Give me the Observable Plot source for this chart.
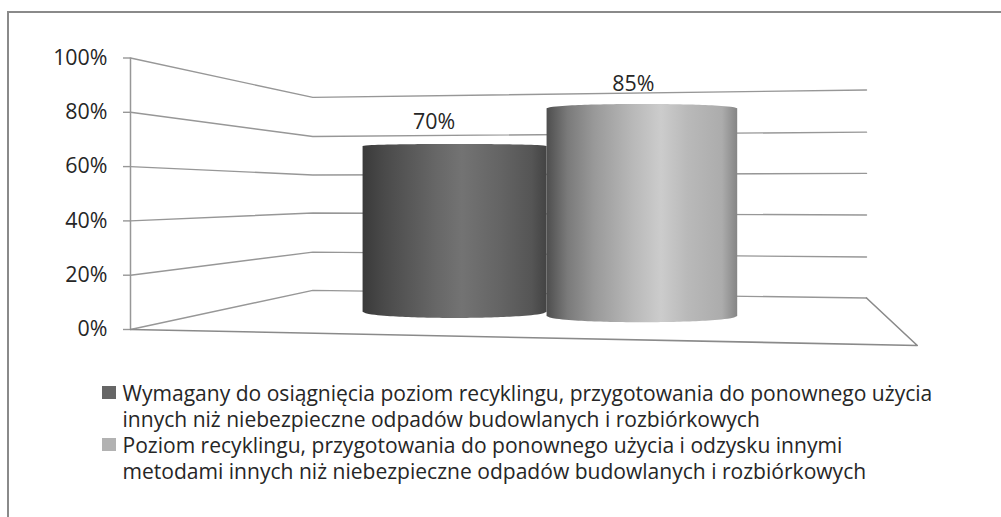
<!DOCTYPE html>
<html lang="pl">
<head>
<meta charset="utf-8">
<script src="https://cdn.jsdelivr.net/npm/d3@7"></script>
<script src="https://cdn.jsdelivr.net/npm/@observablehq/plot@0.6"></script>
<style>
  html, body { margin: 0; padding: 0; background: #fff; }
  #page { position: relative; width: 1001px; height: 517px; overflow: hidden; font-family: "Open Sans", sans-serif; color: #262626; }
  #frame { position: absolute; left: 7px; top: 11px; right: -5px; height: 520px; border-left: 2px solid #8a8a8a; border-top: 2px solid #8a8a8a; pointer-events: none; }
  #chart { position: absolute; left: 0; top: 0; }
  #legend { position: absolute; left: 102px; top: 380px; font-size: 21.05px; line-height: 26px; }
  .item { position: relative; padding-left: 20.5px; white-space: nowrap; }
  .sw { position: absolute; left: 0; top: 6px; width: 14px; height: 13px; }
</style>
</head>
<body>
<div id="page">
  <div id="chart"></div>
  <div id="frame"></div>
  <div id="legend"></div>
</div>
<script>
// ---- data ----
const seriesNames = [
  ["Wymagany do osiągnięcia poziom recyklingu, przygotowania do ponownego użycia", "innych niż niebezpieczne odpadów budowlanych i rozbiórkowych"],
  ["Poziom recyklingu, przygotowania do ponownego użycia i odzysku innymi", "metodami innych niż niebezpieczne odpadów budowlanych i rozbiórkowych"]
];
const seriesValues = [70, 85];
const yTicks = [0, 20, 40, 60, 80, 100];

// ---- 3D wall levels, in axis units, where each gridline meets the far corners ----
const backLeftLevels  = [14.4, 28.5, 42.9, 56.9, 71.1, 85.5];
const backRightLevels = [11.6, 26.7, 42.2, 57.5, 72.7, 88.2];

// ---- layout of the pseudo-3D scene (x units: 0 = axis, 100 = far right corner) ----
const backLeftX = 24.77;
const floorFront = {x: 106.9, y: -5.9};
const cylLeft  = [31.6, 56.6];
const cylRight = [56.6, 82.5];
const cylBase  = [6.37, 4.79];
const cylUnit  = [0.872, 0.900];
const cylCrown = [0.75, 1.6];
const cylSag   = [2.3, 2.3];
const labelDy  = [-24, -25];
const labelDx  = [-21, -9];

// ---- styles ----
const swatchColors = ["#666666", "#b2b2b2"];
const gradients = [
  [[0, "#3a3a3a"], [0.12, "#4a4a4a"], [0.4, "#676767"], [0.54, "#737373"], [0.75, "#646464"], [0.92, "#555555"], [1, "#434343"]],
  [[0, "#4e4e4e"], [0.11, "#7a7a7a"], [0.25, "#999999"], [0.45, "#b8b8b8"], [0.6, "#cccccc"], [0.74, "#b9b9b9"], [0.92, "#acacac"], [1, "#858585"]]
];
const lineColor = "#979797";

const wallRows = yTicks.flatMap((t, i) => [
  {tick: t, x: 0, y: t},
  {tick: t, x: backLeftX, y: backLeftLevels[i]},
  {tick: t, x: 100, y: backRightLevels[i]}
]);
const floorRows = [
  {x: 0, y: 0},
  {x: floorFront.x, y: floorFront.y},
  {x: 100, y: backRightLevels[0]}
];

function cylinderRows(i) {
  const x0 = cylLeft[i], x1 = cylRight[i];
  const top = cylBase[i] + seriesValues[i] * cylUnit[i];
  return d3.range(0, 61).map(k => {
    const t = k / 60, e = Math.sqrt(Math.max(0, 1 - (2 * t - 1) ** 2));
    return {x: x0 + (x1 - x0) * t, y1: cylBase[i] - cylSag[i] * e, y2: top + cylCrown[i] * e};
  });
}

const defs = () => {
  const d = d3.create("svg:defs");
  gradients.forEach((stops, i) => {
    const g = d.append("linearGradient").attr("id", "cyl" + i).attr("x1", 0).attr("x2", 1).attr("y1", 0).attr("y2", 0);
    stops.forEach(([o, c]) => g.append("stop").attr("offset", o).attr("stop-color", c));
  });
  return d.node();
};

const labels = seriesValues.map((v, i) => ({
  x: (cylLeft[i] + cylRight[i]) / 2,
  y: cylBase[i] + v * cylUnit[i],
  text: v + "%",
  dy: labelDy[i],
  dx: labelDx[i]
}));

const plot = Plot.plot({
  width: 1001,
  height: 370,
  marginLeft: 130, marginRight: 0, marginTop: 0, marginBottom: 0,
  style: {background: "transparent", fontFamily: '"Open Sans", sans-serif', overflow: "visible", color: "#262626"},
  x: {domain: [0, 100], range: [130, 866], axis: null},
  y: {domain: [0, 100], range: [329, 57.5]},
  marks: [
    defs,
    Plot.axisY({ticks: yTicks, tickFormat: d => d + "%", tickSize: 7, tickPadding: 16, fontSize: 21.4, stroke: lineColor, strokeWidth: 1.4, label: null, fill: "#262626"}),
    Plot.ruleX([0], {y1: 0, y2: 100, stroke: lineColor, strokeWidth: 1.5}),
    Plot.line(wallRows, {x: "x", y: "y", z: "tick", stroke: lineColor, strokeWidth: 1.4, curve: "linear"}),
    Plot.line(floorRows, {x: "x", y: "y", stroke: "#8a8a8a", strokeWidth: 1.6, curve: "linear"}),
    ...seriesValues.map((v, i) => Plot.areaY(cylinderRows(i), {x: "x", y1: "y1", y2: "y2", fill: `url(#cyl${i})`, curve: "linear"})),
    ...labels.map(l => Plot.text([l], {x: "x", y: "y", text: "text", dy: l.dy, dx: l.dx, fontSize: 21.4, fill: "#262626"}))
  ]
});
document.getElementById("chart").appendChild(plot);

const legend = d3.select("#legend");
seriesNames.forEach((lines, i) => {
  const it = legend.append("div").attr("class", "item");
  it.append("span").attr("class", "sw").style("background", swatchColors[i]);
  lines.forEach(l => it.append("div").text(l));
});
</script>
</body>
</html>
